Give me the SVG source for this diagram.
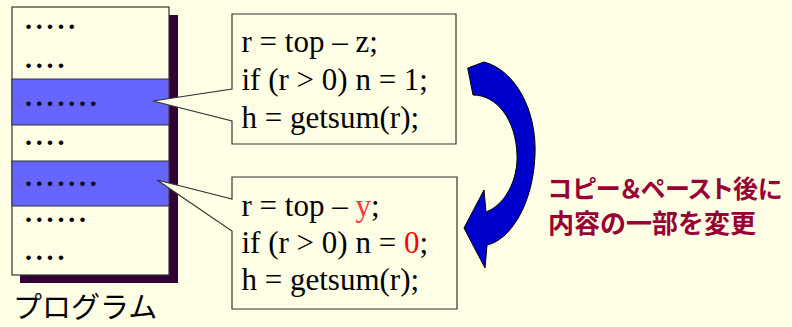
<svg xmlns="http://www.w3.org/2000/svg" width="792" height="327" viewBox="0 0 792 327">
<style>
.dots{font-family:"Liberation Serif",serif;font-size:28px;font-weight:bold;letter-spacing:3.8px;fill:#000}
.code{font-family:"Liberation Serif",serif;font-size:31px;fill:#000}
.frame{fill:#FFFFE5;stroke:#333;stroke-width:1.2}
.band{fill:#6666FF;stroke:#333;stroke-width:1}
.jp{font-family:"Noto Sans CJK JP",sans-serif;font-size:26px;font-weight:bold;fill:#990033}
.palt{font-size:25px;font-feature-settings:"palt"}
</style>
<rect width="792" height="327" fill="#FFFFE5"/>
<g id="program">
<rect x="20" y="15" width="158" height="268" fill="#330033"/>
<rect class="frame" x="12" y="7" width="157" height="268"/>
<rect class="band" x="12" y="79" width="157" height="46"/>
<rect class="band" x="12" y="161" width="157" height="45"/>
<text class="dots" x="25" y="29">.....</text>
<text class="dots" x="25" y="68">....</text>
<text class="dots" x="25" y="106">.......</text>
<text class="dots" x="25" y="145">....</text>
<text class="dots" x="25" y="186">.......</text>
<text class="dots" x="25" y="222">......</text>
<text class="dots" x="25" y="260">....</text>
<text x="13" y="318" font-family="Noto Sans CJK JP, sans-serif" font-size="29px" fill="#000">プログラム</text>
</g>
<g id="callout1">
<path class="frame" d="M232 14 H456 V144 H232 V121 L153 101 L232 89 Z"/>
<text class="code" x="241.5" y="52">r = top – z;</text>
<text class="code" x="241.5" y="90">if (r &gt; 0) n = 1;</text>
<text class="code" x="241.5" y="128">h = getsum(r);</text>
</g>
<g id="callout2">
<path class="frame" d="M232 177 H457 V309 H232 V231 L157 180 L232 199 Z"/>
<text class="code" x="241.5" y="216">r = top – <tspan fill="#FF3333">y</tspan>;</text>
<text class="code" x="241.5" y="253">if (r &gt; 0) n = <tspan fill="#FF0000">0</tspan>;</text>
<text class="code" x="241.5" y="290">h = getsum(r);</text>
</g>
<g id="connectors">
<path d="M467.7 68 L484 62 C515 70 537 110 535 155 C533 205 510 240 487 245 L485 268 L464 228 L484 190 L486 212 C505 205 518 180 517 155 C516 120 497 95 473 95 Z" fill="#0000CC" stroke="#000" stroke-width="1"/>
</g>
<g id="label">
<text class="jp palt" x="548" y="198">コピー＆ペースト後に</text>
<text class="jp" x="548" y="233">内容の一部を変更</text>
</g>
</svg>
